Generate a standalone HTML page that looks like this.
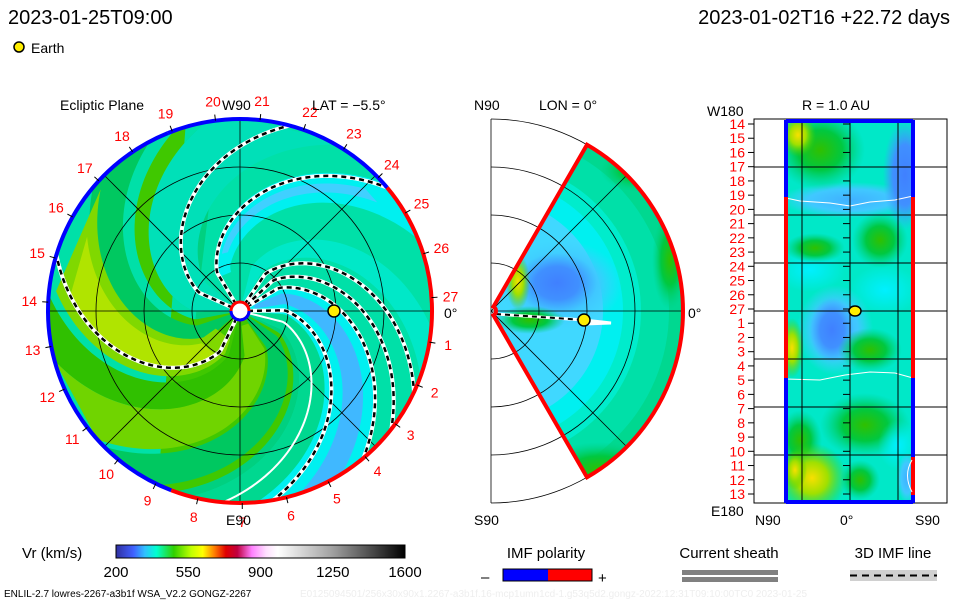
<!DOCTYPE html>
<html><head><meta charset="utf-8"><style>
html,body{margin:0;padding:0;background:#fff;}
svg{display:block;font-family:"Liberation Sans",sans-serif;}
</style></head><body>
<svg id="c" width="960" height="600" viewBox="0 0 960 600" xmlns="http://www.w3.org/2000/svg">
<defs>
<linearGradient id="cbar" x1="0" x2="1" y1="0" y2="0">
<stop offset="0" stop-color="#3030a0"/><stop offset="0.06" stop-color="#4060ff"/><stop offset="0.1" stop-color="#30c0ff"/><stop offset="0.14" stop-color="#00ffd0"/><stop offset="0.2" stop-color="#30d000"/><stop offset="0.26" stop-color="#c0ff00"/><stop offset="0.3" stop-color="#ffff00"/><stop offset="0.34" stop-color="#ff8000"/><stop offset="0.38" stop-color="#e00000"/><stop offset="0.42" stop-color="#c00040"/><stop offset="0.47" stop-color="#ff80ff"/><stop offset="0.52" stop-color="#ffe0ff"/><stop offset="0.56" stop-color="#ffffff"/><stop offset="0.75" stop-color="#a0a0a0"/><stop offset="1" stop-color="#000000"/>
</linearGradient>
<clipPath id="diskclip"><circle cx="240" cy="311" r="192"/></clipPath>
<clipPath id="wedgeclip"><path id="wedgepath" d=""/></clipPath>
<clipPath id="stripclip"><rect x="786" y="121" width="127" height="381"/></clipPath>
<radialGradient id="blob1" cx="0.5" cy="0.5" r="0.5"><stop offset="0" stop-color="#4080ff"/><stop offset="0.55" stop-color="#4090ff"/><stop offset="1" stop-color="#40a0ff" stop-opacity="0"/></radialGradient>
<radialGradient id="blobL" cx="0.5" cy="0.5" r="0.5"><stop offset="0" stop-color="#40b0ff"/><stop offset="0.6" stop-color="#40c8ff"/><stop offset="1" stop-color="#40d0ff" stop-opacity="0"/></radialGradient>
<radialGradient id="blobG" cx="0.5" cy="0.5" r="0.5"><stop offset="0" stop-color="#30c000"/><stop offset="0.5" stop-color="#00c840"/><stop offset="1" stop-color="#00d080" stop-opacity="0"/></radialGradient>
<radialGradient id="blobY" cx="0.5" cy="0.5" r="0.5"><stop offset="0" stop-color="#f8e000"/><stop offset="0.45" stop-color="#a0e000"/><stop offset="1" stop-color="#40d000" stop-opacity="0"/></radialGradient>
<radialGradient id="blobC" cx="0.5" cy="0.5" r="0.5"><stop offset="0" stop-color="#00f0ff"/><stop offset="1" stop-color="#00f0ff" stop-opacity="0"/></radialGradient>
</defs>

<text x="8" y="24" font-size="20" fill="#000">2023-01-25T09:00</text>
<text x="950" y="24" font-size="20" fill="#000" text-anchor="end">2023-01-02T16 +22.72 days</text>
<circle cx="19" cy="47" r="5" fill="#ffee00" stroke="#000" stroke-width="1.5"/>
<text x="31" y="53" font-size="14">Earth</text>

<g id="ecl"></g>
<text x="60" y="110" font-size="14">Ecliptic Plane</text>
<text x="312" y="110" font-size="14">LAT = −5.5°</text>
<text x="222" y="110" font-size="14">W90</text>
<text x="226" y="525" font-size="14">E90</text>
<text x="444" y="318" font-size="14">0°</text>

<g id="mer"></g>
<text x="474" y="110" font-size="14">N90</text>
<text x="539" y="110" font-size="14">LON = 0°</text>
<text x="474" y="525" font-size="14">S90</text>
<text x="688" y="318" font-size="14">0°</text>

<g id="au"></g>
<text x="802" y="110" font-size="14">R = 1.0 AU</text>
<text x="707" y="116" font-size="14">W180</text>
<text x="711" y="516" font-size="14">E180</text>
<text x="755" y="525" font-size="14">N90</text>
<text x="840" y="525" font-size="14">0°</text>
<text x="915" y="525" font-size="14">S90</text>

<text x="22" y="558" font-size="15">Vr (km/s)</text>
<rect x="116" y="545" width="289" height="13" fill="url(#cbar)" stroke="#000"/>
<g id="cbticks"></g>

<text x="546" y="558" font-size="15" text-anchor="middle">IMF polarity</text>
<text x="481" y="582" font-size="15">–</text>
<rect x="503" y="569" width="45" height="12" fill="#0000ff"/>
<rect x="548" y="569" width="44" height="12" fill="#ff0000"/>
<rect x="503" y="569" width="89" height="12" fill="none" stroke="#000"/>
<text x="598" y="583" font-size="15">+</text>
<text x="729" y="558" font-size="15" text-anchor="middle">Current sheath</text>
<rect x="682" y="570" width="96" height="5" fill="#808080"/>
<rect x="682" y="577" width="96" height="5" fill="#808080"/>
<text x="893" y="558" font-size="15" text-anchor="middle">3D IMF line</text>
<rect x="850" y="570" width="87" height="11" fill="#d0d0d0"/>
<line x1="850" y1="575.5" x2="937" y2="575.5" stroke="#000" stroke-width="2" stroke-dasharray="7,5"/>
<text x="4" y="597" font-size="10">ENLIL-2.7 lowres-2267-a3b1f WSA_V2.2 GONGZ-2267</text>
<text x="300" y="597" font-size="10" fill="#eeeeee">E0125094501/256x30x90x1.2267-a3b1f.16-mcp1umn1cd-1.g53q5d2.gongz-2022:12:31T09:10:00TC0   2023-01-25</text>
</svg>
<script>
const NS="http://www.w3.org/2000/svg";
// data
const dayLabels=[27,1,2,3,4,5,6,7,8,9,10,11,12,13,14,15,16,17,18,19,20,21,22,23,24,25,26];
const dayStartAngle=4;
const cbTicks=[200,550,900,1250,1600];
const cbMin=200, cbMax=1600;
const spiralEndAngles=[75,40,163,-95,-80,-50,-38,-25];
const spiralKinds=["dash","dash","dash","white","dash","dash","dash","dash"];
const auLabels=[14,15,16,17,18,19,20,21,22,23,24,25,26,27,1,2,3,4,5,6,7,8,9,10,11,12,13];
const earthAU=[1.0];

function el(t,a,p){const e=document.createElementNS(NS,t);for(const k in a)e.setAttribute(k,a[k]);(p||document.getElementById('c')).appendChild(e);return e;}
const cx=240,cy=311,R=192;
const ecl=document.getElementById('ecl');
function P(r,deg){const a=deg*Math.PI/180;return [cx+r*Math.cos(a),cy-r*Math.sin(a)];}
const K=0.55, RC=45;
function ang(end,r){return end+K*(R-Math.max(r,RC));}
function spiralPts(end,r0,r1){const pts=[];for(let r=r0;r<=r1;r+=3){pts.push(P(r,ang(end,r)));}pts.push(P(r1,ang(end,r1)));return pts;}
let d=el('circle',{cx:cx,cy:cy,r:R,fill:'#00e0a8'},ecl);

const gband=el('g',{'clip-path':'url(#diskclip)'},ecl);
function band(a,b,col,r0,r1){
  const p1=spiralPts(a,r0,r1),p2=spiralPts(b,r0,r1).reverse();
  const pts=p1.concat(p2).map(p=>p.join(',')).join(' ');
  const e=el('polygon',{points:pts,fill:col},gband);
  
}
band(100,255,'#00d080',5,200);
band(110,250,'#40c800',10,200);
band(118,140,'#00c860',10,200);
band(175,195,'#30c000',10,200);
band(225,245,'#00c860',10,200);
band(135,170,'#80d800',30,185);
band(142,162,'#b0e400',50,170);
band(195,222,'#70d400',15,192);
band(255,275,'#00d890',5,200);
band(60,100,'#00e0b8',5,200);
band(22,42,'#00f0f0',40,200);
band(29,35,'#40d0ff',60,175);
band(-85,-50,'#00f0f0',10,200);
band(-72,-58,'#40b8ff',15,192);
band(-5,-20,'#00e8c8',10,200);
const gg=el('g',{fill:'none',stroke:'#000','stroke-width':0.8},ecl);
[48,96,144].forEach(r=>el('circle',{cx:cx,cy:cy,r:r},gg));
[0,45,90,135].forEach(a=>{const p=P(R,a),q=P(R,a+180);el('line',{x1:p[0],y1:p[1],x2:q[0],y2:q[1]},gg);});
spiralEndAngles.forEach((e,i)=>{
  const pts=spiralPts(e,8,R).map(p=>p.join(',')).join(' ');
  const w=el('polyline',{points:pts,fill:'none',stroke:'#fff','stroke-width':i==3?2:4},ecl);
  
  if(spiralKinds[i]==="dash"){const b=el('polyline',{points:pts,fill:'none',stroke:'#000','stroke-width':2.5,'stroke-dasharray':'5,4'},ecl);
  }
});
function arc(a0,a1,col){const p=P(R,a0),q=P(R,a1);const large=Math.abs(a1-a0)>180?1:0;
  const e=el('path',{d:`M${p[0]},${p[1]} A${R},${R} 0 ${large} 1 ${q[0]},${q[1]}`,fill:'none',stroke:col,'stroke-width':4},ecl);
  }
arc(40,-111,'#ff0000');arc(-111,-248,'#0000ff');arc(112,40,'#0000ff');
el('circle',{cx:cx,cy:cy,r:9,fill:'#fff',stroke:'#ff0000','stroke-width':3},ecl);
el('path',{d:`M${cx-9},${cy} A9,9 0 0 0 ${cx+9},${cy}`,fill:'none',stroke:'#0000ff','stroke-width':3},ecl);
earthAU.forEach(v=>{const p=P(v*96,0);const e=el('circle',{cx:p[0]-2,cy:p[1],r:6,fill:'#ffee00',stroke:'#000','stroke-width':1.5},ecl);
});
dayLabels.forEach((lab,i)=>{const a=dayStartAngle-i*360/27;const p=P(211,a);const t=P(R,a),t2=P(R+6,a);
  el('line',{x1:t[0],y1:t[1],x2:t2[0],y2:t2[1],stroke:'#000'},ecl);
  const e=el('text',{x:p[0],y:p[1]+5,'font-size':14,fill:'#ff0000','text-anchor':'middle'},ecl);e.textContent=lab;
  });

// meridional
const mer=document.getElementById('mer');const mx=491,my=311;
function M(r,deg){const a=deg*Math.PI/180;return [mx+r*Math.cos(a),my-r*Math.sin(a)];}
const mg=el('g',{fill:'none',stroke:'#000','stroke-width':0.8},mer);
el('line',{x1:mx,y1:119,x2:mx,y2:503},mg);
[48,96,144,192].forEach(r=>el('path',{d:`M${mx},${my-r} A${r},${r} 0 0 1 ${mx},${my+r}`},mg));
const wd=`M${M(5,60)} L${M(192,60)} A192,192 0 0 1 ${M(192,-60)} L${M(5,-60)} A5,5 0 0 0 ${M(5,60)} Z`;
document.getElementById('wedgepath').setAttribute('d',wd);
el('path',{d:wd,fill:'#00d890'},mer);
const wg=el('g',{'clip-path':'url(#wedgeclip)'},mer);
el('circle',{cx:mx,cy:my,r:178,fill:'#00e0a8'},wg);
el('circle',{cx:mx,cy:my,r:150,fill:'#00eccc'},wg);
el('circle',{cx:mx,cy:my,r:132,fill:'#00f0f0'},wg);
el('circle',{cx:mx,cy:my,r:112,fill:'#40d8ff'},wg);
el('ellipse',{cx:560,cy:285,rx:62,ry:45,fill:'url(#blobL)'},wg);
el('ellipse',{cx:557,cy:283,rx:40,ry:30,fill:'url(#blob1)'},wg);
el('ellipse',{cx:530,cy:320,rx:35,ry:14,fill:'url(#blobG)'},wg);
el('ellipse',{cx:518,cy:282,rx:12,ry:28,fill:'url(#blobY)'},wg);
el('ellipse',{cx:600,cy:470,rx:60,ry:28,fill:'url(#blobG)'},wg);
el('ellipse',{cx:670,cy:260,rx:18,ry:50,fill:'url(#blobG)'},wg);
el('ellipse',{cx:640,cy:170,rx:40,ry:22,fill:'url(#blobG)'},wg);
const mg2=el('g',{fill:'none',stroke:'#000','stroke-width':0.8},mer);
[48,96,144].forEach(r=>el('path',{d:`M${M(r,60)} A${r},${r} 0 0 1 ${M(r,-60)}`},mg2));
el('line',{x1:mx,y1:my,x2:mx+192,y2:my},mg2);
[45,-45].forEach(a=>{const p=M(192,a);el('line',{x1:mx,y1:my,x2:p[0],y2:p[1]},mg2);});
el('polyline',{points:`${mx+5},${my+3} ${mx+93},${my+9} ${mx+120},${my+12} ${mx+93},${my+13}`,fill:'none',stroke:'#fff','stroke-width':3},mer);
el('polyline',{points:`${mx+5},${my+3} ${mx+93},${my+9}`,fill:'none',stroke:'#000','stroke-width':2,'stroke-dasharray':'5,4'},mer);
el('path',{d:wd,fill:'none',stroke:'#ff0000','stroke-width':4},mer);
earthAU.forEach(v=>{const e=el('circle',{cx:mx+v*93,cy:my+9,r:6,fill:'#ffee00',stroke:'#000','stroke-width':1.5},mer);
});

// 1 AU panel
const au=document.getElementById('au');
el('rect',{x:754,y:119,width:193,height:384,fill:'#fff',stroke:'#000'},au);
el('rect',{x:786,y:121,width:127,height:381,fill:'#00e8c8'},au);
const sg=el('g',{'clip-path':'url(#stripclip)'},au);
[[850,200,70,18,'url(#blobL)'],[905,175,22,55,'url(#blob1)'],[820,150,45,40,'url(#blobG)'],[798,135,18,22,'url(#blobY)'],[810,270,35,22,'url(#blobC)'],[880,240,28,28,'url(#blobG)'],[815,248,30,15,'url(#blobG)'],[885,290,35,25,'url(#blobC)'],
 [835,330,38,45,'url(#blobL)'],[832,330,22,32,'url(#blob1)'],[792,348,12,30,'url(#blobY)'],[870,350,32,22,'url(#blobG)'],[865,425,45,32,'url(#blobG)'],[800,440,22,30,'url(#blobG)'],[812,478,35,35,'url(#blobY)'],[795,470,12,20,'url(#blobY)'],[860,480,20,20,'url(#blobG)'],[898,445,20,25,'url(#blobC)'],[907,478,10,25,'url(#blobL)']].forEach(b=>{
  const e=el('ellipse',{cx:b[0],cy:b[1],rx:b[2],ry:b[3],fill:b[4]},sg);});
el('polyline',{points:'786,198 800,201 830,203 850,206 870,202 895,200 913,196',fill:'none',stroke:'#fff'},au);
el('polyline',{points:'786,379 820,380 845,375 870,372 895,373 913,378',fill:'none',stroke:'#fff'},au);
const ag=el('g',{stroke:'#000','stroke-width':1},au);
[167,215,263,311,359,407,455].forEach(y=>el('line',{x1:754,y1:y,x2:947,y2:y},ag));
[802,850,898].forEach(x=>el('line',{x1:x,y1:119,x2:x,y2:503},ag));
auLabels.forEach((lab,i)=>{const y=124+i*(370/26);
  el('line',{x1:748,y1:y,x2:754,y2:y,stroke:'#000'},au);el('line',{x1:843,y1:y,x2:850,y2:y,stroke:'#000'},au);
  const e=el('text',{x:745,y:y+5,'font-size':14,fill:'#ff0000','text-anchor':'end'},au);e.textContent=lab;
  });
function vseg(x,y0,y1,c){el('line',{x1:x,y1:y0,x2:x,y2:y1,stroke:c,'stroke-width':4},au);}
vseg(786,120,197,'#0000ff');vseg(786,197,378,'#ff0000');vseg(786,378,503,'#0000ff');
vseg(913,120,197,'#0000ff');vseg(913,197,378,'#ff0000');vseg(913,378,457,'#0000ff');vseg(913,457,495,'#ff0000');vseg(913,495,503,'#0000ff');
el('line',{x1:786,y1:121,x2:913,y2:121,stroke:'#0000ff','stroke-width':4},au);
el('line',{x1:786,y1:502,x2:913,y2:502,stroke:'#0000ff','stroke-width':4},au);
el('path',{d:'M912,460 Q903,475 912,492',fill:'none',stroke:'#fff'},au);
earthAU.forEach(v=>{const e=el('ellipse',{cx:855,cy:311,rx:6,ry:5,fill:'#ffee00',stroke:'#000','stroke-width':1.5},au);
});

const cbg=document.getElementById('cbticks');
cbTicks.forEach(v=>{const x=116+(v-cbMin)/(cbMax-cbMin)*289;
  const e=el('text',{x:x,y:577,'font-size':15,'text-anchor':'middle'},cbg);e.textContent=v;
  });
</script>
</body></html>
